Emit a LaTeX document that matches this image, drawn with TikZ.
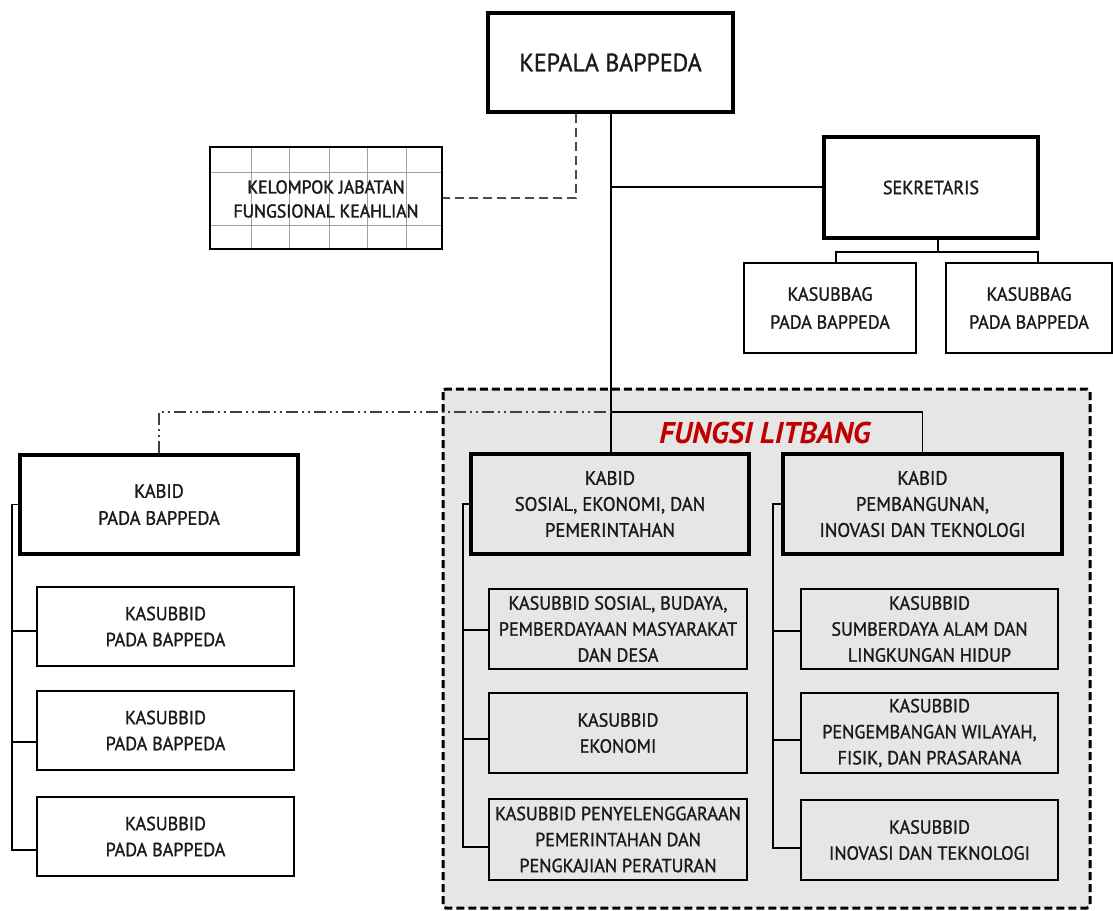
\documentclass[tikz,border=0pt]{standalone}
\usepackage{fontspec}
\newfontfamily\kf[FakeStretch=0.955,FakeBold=1.2]{PT Sans}
\newfontfamily\kfb[FakeStretch=0.955,FakeBold=1.8]{PT Sans}
\newfontfamily\lf{PT Sans}
\newcommand{\fs}[2]{\fontsize{#1}{#2}\selectfont}
\definecolor{regiongray}{HTML}{E6E6E6}
\definecolor{litbangred}{HTML}{C00000}
\definecolor{gridgray}{HTML}{A0A0A0}
\definecolor{txt}{HTML}{1A1A1A}
\begin{document}
\begin{tikzpicture}[x=1pt,y=-1pt,
  every node/.style={inner sep=0pt,align=center,text=txt,font=\kf\fs{19}{26}},
  headbox/.style={draw,line width=3.4pt,fill=white},
  unitbox/.style={draw,line width=1.3pt,fill=white},
  link/.style={line width=1.3pt},
  dashlink/.style={line width=1.5pt,draw=black!70,dash pattern=on 9pt off 5pt},
  dotlink/.style={line width=1.3pt,draw=black!75,dash pattern=on 12pt off 4pt on 2pt off 4pt on 2pt off 4pt},
]
\useasboundingbox (0,0) rectangle (1113,910);

% research and development region
\draw[line width=3pt,dash pattern=on 8pt off 4pt,fill=regiongray,rounded corners=3pt]
  (443,389) rectangle (1090,908);
\node[font=\lf\fs{30}{32}\bfseries\itshape,text=litbangred] (litbang) at (765,433) {FUNGSI LITBANG};

% top level
\node[headbox,minimum width=245pt,minimum height=99pt,font=\kf\fs{25}{30}] (kepala) at (610.5,62.5) {KEPALA BAPPEDA};
\node[headbox,minimum width=214pt,minimum height=101pt,font=\kf\fs{19}{26}] (sekretaris) at (931,187.5) {SEKRETARIS};
\node[unitbox,minimum width=172pt,minimum height=90pt,font=\kf\fs{19}{28}] (kasubbagA) at (830,308) {KASUBBAG\\PADA BAPPEDA};
\node[unitbox,minimum width=166pt,minimum height=90pt,font=\kf\fs{19}{28}] (kasubbagB) at (1029,308) {KASUBBAG\\PADA BAPPEDA};

% expert functional group with its grid
\node[draw,line width=2.2pt,fill=white,minimum width=232pt,minimum height=102pt] (kelompok) at (326,198) {};
\foreach \gx in {251,289,329,367,406}
  \draw[gridgray,line width=0.9pt] (\gx,147) -- (\gx,249);
\foreach \gy in {172,225}
  \draw[gridgray,line width=0.9pt] (210,\gy) -- (442,\gy);
\draw[line width=2.2pt] (210,147) rectangle (442,249);
\node[font=\kfb\fs{18.5}{24}] (kelompoktext) at (326,199) {KELOMPOK JABATAN\\FUNGSIONAL KEAHLIAN};

% heads of division
\node[headbox,minimum width=278pt,minimum height=99pt,font=\kf\fs{19.3}{27}] (kabidL) at (159,504.5) {KABID\\PADA BAPPEDA};
\node[headbox,fill=regiongray,minimum width=278pt,minimum height=100pt,font=\kf\fs{19.5}{26}] (kabidS) at (610,504) {KABID\\SOSIAL, EKONOMI, DAN\\PEMERINTAHAN};
\node[headbox,fill=regiongray,minimum width=279pt,minimum height=100pt,font=\kf\fs{19.5}{26}] (kabidP) at (922.5,504) {KABID\\PEMBANGUNAN,\\INOVASI DAN TEKNOLOGI};

% sub-divisions, left column
\node[unitbox,minimum width=257pt,minimum height=79pt] (ksL1) at (165.5,626.5) {KASUBBID\\PADA BAPPEDA};
\node[unitbox,minimum width=257pt,minimum height=79pt] (ksL2) at (165.5,730.5) {KASUBBID\\PADA BAPPEDA};
\node[unitbox,minimum width=257pt,minimum height=79pt] (ksL3) at (165.5,836.5) {KASUBBID\\PADA BAPPEDA};

% sub-divisions, social and economic
\node[unitbox,fill=regiongray,minimum width=258pt,minimum height=80pt] (ksS1) at (618,629) {KASUBBID SOSIAL, BUDAYA,\\PEMBERDAYAAN MASYARAKAT\\DAN DESA};
\node[unitbox,fill=regiongray,minimum width=258pt,minimum height=80pt] (ksS2) at (618,733) {KASUBBID\\EKONOMI};
\node[unitbox,fill=regiongray,minimum width=258pt,minimum height=81pt] (ksS3) at (618,839.5) {KASUBBID PENYELENGGARAAN\\PEMERINTAHAN DAN\\PENGKAJIAN PERATURAN};

% sub-divisions, development
\node[unitbox,fill=regiongray,minimum width=257pt,minimum height=80pt] (ksP1) at (929.5,629) {KASUBBID\\SUMBERDAYA ALAM DAN\\LINGKUNGAN HIDUP};
\node[unitbox,fill=regiongray,minimum width=257pt,minimum height=80pt] (ksP2) at (929.5,733) {KASUBBID\\PENGEMBANGAN WILAYAH,\\FISIK, DAN PRASARANA};
\node[unitbox,fill=regiongray,minimum width=257pt,minimum height=80pt] (ksP3) at (929.5,840) {KASUBBID\\INOVASI DAN TEKNOLOGI};

% junction points
\coordinate (fork) at (611,412);
\coordinate (sekjoin) at (611,187);
\coordinate (sjA) at (836,252);
\coordinate (sjB) at (1038,252);
\coordinate (sstem) at (938,252);
\coordinate (dashturn) at (576,198);
\coordinate (bL1) at (12,631);  \coordinate (bL2) at (12,742);  \coordinate (bL3) at (12,850);
\coordinate (bS1) at (463,630); \coordinate (bS2) at (463,739); \coordinate (bS3) at (463,847);
\coordinate (bP1) at (773,631); \coordinate (bP2) at (773,740); \coordinate (bP3) at (773,848);

% connectors
\draw[link] (kepala.south -| fork) -- (kabidS.north -| fork);
\draw[link] (sekjoin) -- (sekjoin -| sekretaris.west);
\draw[dashlink] (kepala.south -| dashturn) -- (dashturn) -- (kelompok.east |- dashturn);
\draw[link] (sstem |- sekretaris.south) -- (sstem);
\draw[link] (sjA |- kasubbagA.north) -- (sjA) -- (sjB) -- (sjB |- kasubbagB.north);
\draw[dotlink] (kabidL.north) |- (fork);
\draw[link] (fork) -| (kabidP.north);

\draw[link] (kabidL.west) -| (bL3) -- (bL3 -| ksL3.west);
\draw[link] (bL1) -- (bL1 -| ksL1.west);
\draw[link] (bL2) -- (bL2 -| ksL2.west);

\draw[link] (kabidS.west) -| (bS3) -- (bS3 -| ksS3.west);
\draw[link] (bS1) -- (bS1 -| ksS1.west);
\draw[link] (bS2) -- (bS2 -| ksS2.west);

\draw[link] (kabidP.west) -| (bP3) -- (bP3 -| ksP3.west);
\draw[link] (bP1) -- (bP1 -| ksP1.west);
\draw[link] (bP2) -- (bP2 -| ksP2.west);
\end{tikzpicture}
\end{document}
